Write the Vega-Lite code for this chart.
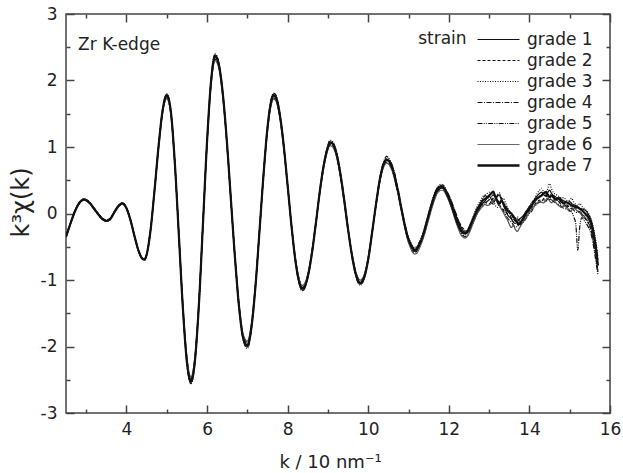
{
"$schema": "https://vega.github.io/schema/vega-lite/v6.json",
"width": 544, "height": 399,
"autosize": {"type": "none"},
"padding": {"left": 66, "top": 14, "right": 13, "bottom": 60},
"background": "white",
"config": {"view": {"stroke": "#444", "strokeWidth": 1.5}, "font": "DejaVu Sans"},
"resolve": {"axis": {"x": "independent", "y": "independent"}},
"layer": [
{
"data": {"values": [
{"k":2.5,"g1":-0.35,"g2":-0.34,"g3":-0.36,"g4":-0.35,"g5":-0.33,"g6":-0.36,"g7":-0.35},
{"k":2.6,"g1":-0.17,"g2":-0.16,"g3":-0.18,"g4":-0.17,"g5":-0.16,"g6":-0.18,"g7":-0.17},
{"k":2.7,"g1":0.00,"g2":0.01,"g3":-0.01,"g4":0.00,"g5":0.01,"g6":-0.01,"g7":0.00},
{"k":2.8,"g1":0.13,"g2":0.14,"g3":0.12,"g4":0.13,"g5":0.14,"g6":0.12,"g7":0.13},
{"k":2.9,"g1":0.20,"g2":0.21,"g3":0.19,"g4":0.20,"g5":0.21,"g6":0.20,"g7":0.20},
{"k":2.95,"g1":0.21,"g2":0.22,"g3":0.20,"g4":0.21,"g5":0.22,"g6":0.21,"g7":0.21},
{"k":3.0,"g1":0.20,"g2":0.21,"g3":0.19,"g4":0.20,"g5":0.21,"g6":0.19,"g7":0.20},
{"k":3.1,"g1":0.15,"g2":0.16,"g3":0.14,"g4":0.15,"g5":0.16,"g6":0.14,"g7":0.15},
{"k":3.2,"g1":0.07,"g2":0.08,"g3":0.06,"g4":0.07,"g5":0.08,"g6":0.06,"g7":0.07},
{"k":3.3,"g1":-0.01,"g2":0.00,"g3":-0.02,"g4":-0.01,"g5":0.00,"g6":-0.02,"g7":-0.01},
{"k":3.4,"g1":-0.08,"g2":-0.07,"g3":-0.09,"g4":-0.08,"g5":-0.07,"g6":-0.09,"g7":-0.08},
{"k":3.5,"g1":-0.11,"g2":-0.10,"g3":-0.12,"g4":-0.11,"g5":-0.10,"g6":-0.12,"g7":-0.11},
{"k":3.6,"g1":-0.08,"g2":-0.07,"g3":-0.09,"g4":-0.08,"g5":-0.07,"g6":-0.09,"g7":-0.08},
{"k":3.7,"g1":0.02,"g2":0.03,"g3":0.01,"g4":0.02,"g5":0.03,"g6":0.01,"g7":0.02},
{"k":3.8,"g1":0.11,"g2":0.12,"g3":0.10,"g4":0.11,"g5":0.12,"g6":0.10,"g7":0.11},
{"k":3.9,"g1":0.15,"g2":0.16,"g3":0.14,"g4":0.15,"g5":0.16,"g6":0.14,"g7":0.15},
{"k":4.0,"g1":0.08,"g2":0.09,"g3":0.07,"g4":0.08,"g5":0.09,"g6":0.07,"g7":0.08},
{"k":4.1,"g1":-0.10,"g2":-0.09,"g3":-0.11,"g4":-0.10,"g5":-0.09,"g6":-0.11,"g7":-0.10},
{"k":4.2,"g1":-0.34,"g2":-0.33,"g3":-0.35,"g4":-0.34,"g5":-0.33,"g6":-0.35,"g7":-0.34},
{"k":4.3,"g1":-0.56,"g2":-0.55,"g3":-0.57,"g4":-0.56,"g5":-0.55,"g6":-0.57,"g7":-0.56},
{"k":4.4,"g1":-0.68,"g2":-0.67,"g3":-0.69,"g4":-0.68,"g5":-0.67,"g6":-0.69,"g7":-0.68},
{"k":4.45,"g1":-0.69,"g2":-0.68,"g3":-0.70,"g4":-0.69,"g5":-0.68,"g6":-0.70,"g7":-0.69},
{"k":4.5,"g1":-0.62,"g2":-0.61,"g3":-0.63,"g4":-0.62,"g5":-0.61,"g6":-0.63,"g7":-0.62},
{"k":4.6,"g1":-0.24,"g2":-0.23,"g3":-0.25,"g4":-0.24,"g5":-0.22,"g6":-0.25,"g7":-0.24},
{"k":4.7,"g1":0.37,"g2":0.36,"g3":0.38,"g4":0.37,"g5":0.39,"g6":0.35,"g7":0.37},
{"k":4.8,"g1":1.03,"g2":1.01,"g3":1.04,"g4":1.02,"g5":1.05,"g6":1.00,"g7":1.03},
{"k":4.9,"g1":1.55,"g2":1.53,"g3":1.57,"g4":1.54,"g5":1.58,"g6":1.52,"g7":1.56},
{"k":5.0,"g1":1.77,"g2":1.74,"g3":1.79,"g4":1.76,"g5":1.80,"g6":1.73,"g7":1.78},
{"k":5.1,"g1":1.53,"g2":1.51,"g3":1.55,"g4":1.52,"g5":1.56,"g6":1.50,"g7":1.54},
{"k":5.2,"g1":0.76,"g2":0.75,"g3":0.78,"g4":0.75,"g5":0.79,"g6":0.74,"g7":0.77},
{"k":5.3,"g1":-0.32,"g2":-0.31,"g3":-0.33,"g4":-0.32,"g5":-0.33,"g6":-0.30,"g7":-0.32},
{"k":5.4,"g1":-1.41,"g2":-1.38,"g3":-1.43,"g4":-1.40,"g5":-1.44,"g6":-1.37,"g7":-1.42},
{"k":5.5,"g1":-2.22,"g2":-2.18,"g3":-2.25,"g4":-2.20,"g5":-2.26,"g6":-2.16,"g7":-2.23},
{"k":5.6,"g1":-2.52,"g2":-2.48,"g3":-2.55,"g4":-2.50,"g5":-2.56,"g6":-2.46,"g7":-2.53},
{"k":5.7,"g1":-2.20,"g2":-2.16,"g3":-2.23,"g4":-2.18,"g5":-2.24,"g6":-2.15,"g7":-2.21},
{"k":5.8,"g1":-1.34,"g2":-1.31,"g3":-1.36,"g4":-1.33,"g5":-1.37,"g6":-1.30,"g7":-1.35},
{"k":5.9,"g1":-0.14,"g2":-0.13,"g3":-0.15,"g4":-0.14,"g5":-0.15,"g6":-0.12,"g7":-0.14},
{"k":6.0,"g1":1.07,"g2":1.05,"g3":1.09,"g4":1.06,"g5":1.10,"g6":1.04,"g7":1.08},
{"k":6.1,"g1":1.98,"g2":1.95,"g3":2.01,"g4":1.97,"g5":2.02,"g6":1.93,"g7":1.99},
{"k":6.2,"g1":2.36,"g2":2.32,"g3":2.39,"g4":2.34,"g5":2.40,"g6":2.30,"g7":2.37},
{"k":6.3,"g1":2.21,"g2":2.18,"g3":2.24,"g4":2.20,"g5":2.25,"g6":2.16,"g7":2.22},
{"k":6.4,"g1":1.74,"g2":1.71,"g3":1.76,"g4":1.73,"g5":1.77,"g6":1.70,"g7":1.75},
{"k":6.5,"g1":1.01,"g2":0.99,"g3":1.03,"g4":1.00,"g5":1.03,"g6":0.98,"g7":1.02},
{"k":6.6,"g1":0.14,"g2":0.13,"g3":0.15,"g4":0.14,"g5":0.15,"g6":0.13,"g7":0.14},
{"k":6.7,"g1":-0.72,"g2":-0.70,"g3":-0.73,"g4":-0.71,"g5":-0.74,"g6":-0.69,"g7":-0.72},
{"k":6.8,"g1":-1.43,"g2":-1.40,"g3":-1.45,"g4":-1.42,"g5":-1.46,"g6":-1.39,"g7":-1.44},
{"k":6.9,"g1":-1.87,"g2":-1.84,"g3":-1.90,"g4":-1.86,"g5":-1.91,"g6":-1.82,"g7":-1.88},
{"k":7.0,"g1":-1.98,"g2":-1.94,"g3":-2.01,"g4":-1.96,"g5":-2.03,"g6":-1.92,"g7":-1.99},
{"k":7.1,"g1":-1.71,"g2":-1.68,"g3":-1.74,"g4":-1.70,"g5":-1.75,"g6":-1.66,"g7":-1.72},
{"k":7.2,"g1":-1.10,"g2":-1.08,"g3":-1.12,"g4":-1.09,"g5":-1.13,"g6":-1.07,"g7":-1.11},
{"k":7.3,"g1":-0.28,"g2":-0.27,"g3":-0.29,"g4":-0.28,"g5":-0.29,"g6":-0.26,"g7":-0.28},
{"k":7.4,"g1":0.57,"g2":0.55,"g3":0.58,"g4":0.56,"g5":0.59,"g6":0.55,"g7":0.57},
{"k":7.5,"g1":1.28,"g2":1.25,"g3":1.30,"g4":1.27,"g5":1.31,"g6":1.24,"g7":1.29},
{"k":7.6,"g1":1.70,"g2":1.67,"g3":1.73,"g4":1.69,"g5":1.74,"g6":1.65,"g7":1.71},
{"k":7.65,"g1":1.77,"g2":1.73,"g3":1.80,"g4":1.75,"g5":1.81,"g6":1.72,"g7":1.78},
{"k":7.7,"g1":1.75,"g2":1.72,"g3":1.78,"g4":1.74,"g5":1.79,"g6":1.70,"g7":1.76},
{"k":7.8,"g1":1.50,"g2":1.47,"g3":1.53,"g4":1.49,"g5":1.54,"g6":1.46,"g7":1.51},
{"k":7.9,"g1":1.03,"g2":1.01,"g3":1.05,"g4":1.02,"g5":1.06,"g6":1.00,"g7":1.04},
{"k":8.0,"g1":0.42,"g2":0.41,"g3":0.43,"g4":0.42,"g5":0.44,"g6":0.40,"g7":0.42},
{"k":8.1,"g1":-0.21,"g2":-0.20,"g3":-0.22,"g4":-0.21,"g5":-0.22,"g6":-0.20,"g7":-0.21},
{"k":8.2,"g1":-0.73,"g2":-0.71,"g3":-0.75,"g4":-0.72,"g5":-0.76,"g6":-0.70,"g7":-0.74},
{"k":8.3,"g1":-1.05,"g2":-1.02,"g3":-1.07,"g4":-1.04,"g5":-1.09,"g6":-1.01,"g7":-1.06},
{"k":8.35,"g1":-1.12,"g2":-1.09,"g3":-1.14,"g4":-1.11,"g5":-1.16,"g6":-1.08,"g7":-1.13},
{"k":8.4,"g1":-1.11,"g2":-1.08,"g3":-1.13,"g4":-1.10,"g5":-1.15,"g6":-1.07,"g7":-1.12},
{"k":8.5,"g1":-0.94,"g2":-0.92,"g3":-0.96,"g4":-0.93,"g5":-0.97,"g6":-0.91,"g7":-0.95},
{"k":8.6,"g1":-0.60,"g2":-0.58,"g3":-0.62,"g4":-0.59,"g5":-0.63,"g6":-0.57,"g7":-0.61},
{"k":8.7,"g1":-0.15,"g2":-0.14,"g3":-0.16,"g4":-0.15,"g5":-0.17,"g6":-0.13,"g7":-0.15},
{"k":8.8,"g1":0.33,"g2":0.32,"g3":0.35,"g4":0.33,"g5":0.36,"g6":0.31,"g7":0.34},
{"k":8.9,"g1":0.73,"g2":0.71,"g3":0.75,"g4":0.72,"g5":0.76,"g6":0.70,"g7":0.74},
{"k":9.0,"g1":0.99,"g2":0.97,"g3":1.01,"g4":0.98,"g5":1.03,"g6":0.96,"g7":1.00},
{"k":9.05,"g1":1.06,"g2":1.03,"g3":1.08,"g4":1.05,"g5":1.10,"g6":1.02,"g7":1.07},
{"k":9.1,"g1":1.06,"g2":1.04,"g3":1.07,"g4":1.05,"g5":1.09,"g6":1.01,"g7":1.06},
{"k":9.2,"g1":0.92,"g2":0.90,"g3":0.95,"g4":0.91,"g5":0.96,"g6":0.88,"g7":0.93},
{"k":9.3,"g1":0.62,"g2":0.60,"g3":0.65,"g4":0.61,"g5":0.66,"g6":0.59,"g7":0.63},
{"k":9.4,"g1":0.21,"g2":0.20,"g3":0.24,"g4":0.20,"g5":0.25,"g6":0.18,"g7":0.22},
{"k":9.5,"g1":-0.24,"g2":-0.23,"g3":-0.22,"g4":-0.25,"g5":-0.21,"g6":-0.26,"g7":-0.24},
{"k":9.6,"g1":-0.64,"g2":-0.62,"g3":-0.65,"g4":-0.63,"g5":-0.67,"g6":-0.61,"g7":-0.64},
{"k":9.7,"g1":-0.92,"g2":-0.90,"g3":-0.94,"g4":-0.91,"g5":-0.96,"g6":-0.89,"g7":-0.93},
{"k":9.8,"g1":-1.04,"g2":-1.01,"g3":-1.06,"g4":-1.03,"g5":-1.08,"g6":-1.00,"g7":-1.05},
{"k":9.9,"g1":-0.95,"g2":-0.93,"g3":-0.97,"g4":-0.94,"g5":-0.98,"g6":-0.92,"g7":-0.96},
{"k":10.0,"g1":-0.68,"g2":-0.66,"g3":-0.70,"g4":-0.67,"g5":-0.71,"g6":-0.65,"g7":-0.69},
{"k":10.1,"g1":-0.27,"g2":-0.26,"g3":-0.28,"g4":-0.27,"g5":-0.29,"g6":-0.25,"g7":-0.27},
{"k":10.2,"g1":0.16,"g2":0.15,"g3":0.18,"g4":0.16,"g5":0.19,"g6":0.14,"g7":0.17},
{"k":10.3,"g1":0.54,"g2":0.52,"g3":0.56,"g4":0.53,"g5":0.58,"g6":0.51,"g7":0.55},
{"k":10.4,"g1":0.76,"g2":0.74,"g3":0.79,"g4":0.75,"g5":0.81,"g6":0.72,"g7":0.77},
{"k":10.45,"g1":0.80,"g2":0.77,"g3":0.83,"g4":0.79,"g5":0.86,"g6":0.76,"g7":0.81},
{"k":10.5,"g1":0.79,"g2":0.76,"g3":0.82,"g4":0.78,"g5":0.84,"g6":0.75,"g7":0.80},
{"k":10.55,"g1":0.74,"g2":0.71,"g3":0.77,"g4":0.72,"g5":0.79,"g6":0.70,"g7":0.76},
{"k":10.6,"g1":0.67,"g2":0.66,"g3":0.71,"g4":0.64,"g5":0.72,"g6":0.63,"g7":0.68},
{"k":10.65,"g1":0.57,"g2":0.54,"g3":0.60,"g4":0.55,"g5":0.62,"g6":0.52,"g7":0.58},
{"k":10.7,"g1":0.45,"g2":0.41,"g3":0.47,"g4":0.44,"g5":0.49,"g6":0.40,"g7":0.43},
{"k":10.75,"g1":0.30,"g2":0.27,"g3":0.33,"g4":0.28,"g5":0.34,"g6":0.26,"g7":0.31},
{"k":10.8,"g1":0.15,"g2":0.12,"g3":0.18,"g4":0.13,"g5":0.17,"g6":0.11,"g7":0.14},
{"k":10.85,"g1":0.00,"g2":-0.03,"g3":0.03,"g4":-0.02,"g5":0.02,"g6":-0.04,"g7":-0.01},
{"k":10.9,"g1":-0.15,"g2":-0.18,"g3":-0.12,"g4":-0.17,"g5":-0.13,"g6":-0.19,"g7":-0.16},
{"k":10.95,"g1":-0.27,"g2":-0.31,"g3":-0.26,"g4":-0.30,"g5":-0.25,"g6":-0.33,"g7":-0.29},
{"k":11.0,"g1":-0.38,"g2":-0.43,"g3":-0.36,"g4":-0.41,"g5":-0.37,"g6":-0.44,"g7":-0.39},
{"k":11.05,"g1":-0.45,"g2":-0.50,"g3":-0.44,"g4":-0.49,"g5":-0.43,"g6":-0.52,"g7":-0.46},
{"k":11.1,"g1":-0.51,"g2":-0.57,"g3":-0.49,"g4":-0.55,"g5":-0.50,"g6":-0.58,"g7":-0.52},
{"k":11.15,"g1":-0.54,"g2":-0.59,"g3":-0.51,"g4":-0.57,"g5":-0.52,"g6":-0.61,"g7":-0.55},
{"k":11.2,"g1":-0.55,"g2":-0.57,"g3":-0.50,"g4":-0.56,"g5":-0.51,"g6":-0.60,"g7":-0.53},
{"k":11.25,"g1":-0.51,"g2":-0.52,"g3":-0.46,"g4":-0.50,"g5":-0.45,"g6":-0.55,"g7":-0.48},
{"k":11.3,"g1":-0.45,"g2":-0.46,"g3":-0.39,"g4":-0.44,"g5":-0.40,"g6":-0.48,"g7":-0.42},
{"k":11.35,"g1":-0.37,"g2":-0.38,"g3":-0.31,"g4":-0.36,"g5":-0.32,"g6":-0.40,"g7":-0.34},
{"k":11.4,"g1":-0.28,"g2":-0.29,"g3":-0.21,"g4":-0.26,"g5":-0.23,"g6":-0.31,"g7":-0.24},
{"k":11.45,"g1":-0.17,"g2":-0.18,"g3":-0.10,"g4":-0.15,"g5":-0.12,"g6":-0.20,"g7":-0.13},
{"k":11.5,"g1":-0.06,"g2":-0.07,"g3":0.01,"g4":-0.04,"g5":0.00,"g6":-0.09,"g7":-0.02},
{"k":11.55,"g1":0.05,"g2":0.04,"g3":0.12,"g4":0.07,"g5":0.11,"g6":0.02,"g7":0.09},
{"k":11.6,"g1":0.15,"g2":0.14,"g3":0.22,"g4":0.17,"g5":0.21,"g6":0.12,"g7":0.19},
{"k":11.65,"g1":0.24,"g2":0.23,"g3":0.31,"g4":0.26,"g5":0.30,"g6":0.21,"g7":0.28},
{"k":11.7,"g1":0.31,"g2":0.30,"g3":0.38,"g4":0.33,"g5":0.37,"g6":0.29,"g7":0.35},
{"k":11.75,"g1":0.36,"g2":0.35,"g3":0.42,"g4":0.37,"g5":0.41,"g6":0.33,"g7":0.39},
{"k":11.8,"g1":0.38,"g2":0.37,"g3":0.44,"g4":0.39,"g5":0.42,"g6":0.35,"g7":0.41},
{"k":11.85,"g1":0.39,"g2":0.38,"g3":0.41,"g4":0.38,"g5":0.43,"g6":0.35,"g7":0.40},
{"k":11.9,"g1":0.37,"g2":0.36,"g3":0.38,"g4":0.34,"g5":0.40,"g6":0.32,"g7":0.36},
{"k":11.95,"g1":0.32,"g2":0.31,"g3":0.32,"g4":0.28,"g5":0.34,"g6":0.26,"g7":0.30},
{"k":12.0,"g1":0.26,"g2":0.27,"g3":0.24,"g4":0.21,"g5":0.28,"g6":0.19,"g7":0.23},
{"k":12.05,"g1":0.19,"g2":0.20,"g3":0.15,"g4":0.12,"g5":0.21,"g6":0.11,"g7":0.15},
{"k":12.1,"g1":0.10,"g2":0.12,"g3":0.05,"g4":0.03,"g5":0.13,"g6":0.02,"g7":0.06},
{"k":12.15,"g1":0.02,"g2":0.04,"g3":-0.05,"g4":-0.06,"g5":0.05,"g6":-0.08,"g7":-0.03},
{"k":12.2,"g1":-0.07,"g2":-0.05,"g3":-0.14,"g4":-0.15,"g5":-0.04,"g6":-0.17,"g7":-0.12},
{"k":12.25,"g1":-0.15,"g2":-0.12,"g3":-0.22,"g4":-0.22,"g5":-0.12,"g6":-0.25,"g7":-0.19},
{"k":12.3,"g1":-0.21,"g2":-0.18,"g3":-0.28,"g4":-0.29,"g5":-0.19,"g6":-0.32,"g7":-0.25},
{"k":12.35,"g1":-0.26,"g2":-0.22,"g3":-0.32,"g4":-0.33,"g5":-0.24,"g6":-0.35,"g7":-0.29},
{"k":12.4,"g1":-0.29,"g2":-0.25,"g3":-0.33,"g4":-0.35,"g5":-0.27,"g6":-0.37,"g7":-0.30},
{"k":12.45,"g1":-0.29,"g2":-0.26,"g3":-0.30,"g4":-0.34,"g5":-0.28,"g6":-0.35,"g7":-0.28},
{"k":12.5,"g1":-0.25,"g2":-0.24,"g3":-0.23,"g4":-0.29,"g5":-0.25,"g6":-0.30,"g7":-0.22},
{"k":12.55,"g1":-0.19,"g2":-0.20,"g3":-0.14,"g4":-0.22,"g5":-0.20,"g6":-0.23,"g7":-0.15},
{"k":12.6,"g1":-0.12,"g2":-0.14,"g3":-0.05,"g4":-0.14,"g5":-0.13,"g6":-0.15,"g7":-0.08},
{"k":12.65,"g1":-0.05,"g2":-0.07,"g3":0.03,"g4":-0.06,"g5":-0.06,"g6":-0.08,"g7":-0.01},
{"k":12.7,"g1":0.01,"g2":0.00,"g3":0.10,"g4":0.01,"g5":0.00,"g6":-0.01,"g7":0.06},
{"k":12.75,"g1":0.07,"g2":0.05,"g3":0.16,"g4":0.06,"g5":0.08,"g6":0.04,"g7":0.11},
{"k":12.8,"g1":0.13,"g2":0.10,"g3":0.21,"g4":0.12,"g5":0.17,"g6":0.08,"g7":0.16},
{"k":12.85,"g1":0.16,"g2":0.14,"g3":0.26,"g4":0.15,"g5":0.23,"g6":0.11,"g7":0.20},
{"k":12.9,"g1":0.19,"g2":0.17,"g3":0.28,"g4":0.16,"g5":0.27,"g6":0.14,"g7":0.22},
{"k":12.95,"g1":0.23,"g2":0.15,"g3":0.30,"g4":0.18,"g5":0.25,"g6":0.12,"g7":0.24},
{"k":13.0,"g1":0.26,"g2":0.14,"g3":0.32,"g4":0.21,"g5":0.22,"g6":0.13,"g7":0.27},
{"k":13.05,"g1":0.22,"g2":0.18,"g3":0.27,"g4":0.25,"g5":0.17,"g6":0.15,"g7":0.30},
{"k":13.1,"g1":0.17,"g2":0.23,"g3":0.21,"g4":0.28,"g5":0.14,"g6":0.19,"g7":0.33},
{"k":13.15,"g1":0.20,"g2":0.26,"g3":0.13,"g4":0.24,"g5":0.20,"g6":0.22,"g7":0.26},
{"k":13.2,"g1":0.25,"g2":0.21,"g3":0.09,"g4":0.17,"g5":0.27,"g6":0.18,"g7":0.20},
{"k":13.25,"g1":0.28,"g2":0.14,"g3":0.12,"g4":0.11,"g5":0.31,"g6":0.13,"g7":0.15},
{"k":13.3,"g1":0.21,"g2":0.09,"g3":0.18,"g4":0.08,"g5":0.24,"g6":0.07,"g7":0.19},
{"k":13.35,"g1":0.13,"g2":0.06,"g3":0.23,"g4":0.04,"g5":0.15,"g6":0.02,"g7":0.16},
{"k":13.4,"g1":0.06,"g2":0.02,"g3":0.17,"g4":-0.01,"g5":0.12,"g6":-0.04,"g7":0.09},
{"k":13.45,"g1":-0.01,"g2":0.00,"g3":0.10,"g4":-0.06,"g5":0.08,"g6":-0.09,"g7":0.05},
{"k":13.5,"g1":-0.05,"g2":0.04,"g3":0.03,"g4":-0.10,"g5":0.01,"g6":-0.16,"g7":0.02},
{"k":13.55,"g1":-0.08,"g2":-0.01,"g3":-0.04,"g4":-0.13,"g5":-0.07,"g6":-0.21,"g7":0.00},
{"k":13.6,"g1":-0.13,"g2":-0.07,"g3":-0.09,"g4":-0.17,"g5":-0.12,"g6":-0.18,"g7":-0.04},
{"k":13.65,"g1":-0.15,"g2":-0.12,"g3":-0.07,"g4":-0.21,"g5":-0.10,"g6":-0.24,"g7":-0.09},
{"k":13.7,"g1":-0.12,"g2":-0.16,"g3":-0.05,"g4":-0.19,"g5":-0.08,"g6":-0.27,"g7":-0.13},
{"k":13.75,"g1":-0.09,"g2":-0.19,"g3":-0.08,"g4":-0.15,"g5":-0.11,"g6":-0.22,"g7":-0.16},
{"k":13.8,"g1":-0.06,"g2":-0.15,"g3":-0.12,"g4":-0.11,"g5":-0.14,"g6":-0.17,"g7":-0.12},
{"k":13.85,"g1":-0.03,"g2":-0.10,"g3":-0.09,"g4":-0.05,"g5":-0.13,"g6":-0.12,"g7":-0.07},
{"k":13.9,"g1":0.02,"g2":-0.07,"g3":-0.03,"g4":0.00,"g5":-0.09,"g6":-0.08,"g7":-0.02},
{"k":13.95,"g1":0.06,"g2":-0.02,"g3":0.04,"g4":0.05,"g5":-0.04,"g6":-0.03,"g7":0.03},
{"k":14.0,"g1":0.10,"g2":0.04,"g3":0.09,"g4":0.11,"g5":0.00,"g6":0.02,"g7":0.07},
{"k":14.05,"g1":0.13,"g2":0.08,"g3":0.15,"g4":0.16,"g5":0.03,"g6":0.06,"g7":0.11},
{"k":14.1,"g1":0.18,"g2":0.11,"g3":0.20,"g4":0.19,"g5":0.08,"g6":0.10,"g7":0.16},
{"k":14.15,"g1":0.23,"g2":0.15,"g3":0.25,"g4":0.22,"g5":0.12,"g6":0.13,"g7":0.20},
{"k":14.2,"g1":0.27,"g2":0.18,"g3":0.31,"g4":0.24,"g5":0.15,"g6":0.16,"g7":0.23},
{"k":14.25,"g1":0.30,"g2":0.20,"g3":0.35,"g4":0.26,"g5":0.17,"g6":0.18,"g7":0.25},
{"k":14.3,"g1":0.32,"g2":0.19,"g3":0.38,"g4":0.28,"g5":0.18,"g6":0.17,"g7":0.27},
{"k":14.35,"g1":0.29,"g2":0.22,"g3":0.33,"g4":0.31,"g5":0.21,"g6":0.16,"g7":0.30},
{"k":14.4,"g1":0.26,"g2":0.27,"g3":0.29,"g4":0.34,"g5":0.18,"g6":0.20,"g7":0.32},
{"k":14.45,"g1":0.31,"g2":0.24,"g3":0.36,"g4":0.30,"g5":0.22,"g6":0.23,"g7":0.28},
{"k":14.5,"g1":0.35,"g2":0.21,"g3":0.45,"g4":0.27,"g5":0.26,"g6":0.19,"g7":0.25},
{"k":14.55,"g1":0.30,"g2":0.23,"g3":0.37,"g4":0.29,"g5":0.21,"g6":0.16,"g7":0.27},
{"k":14.6,"g1":0.27,"g2":0.26,"g3":0.31,"g4":0.25,"g5":0.18,"g6":0.20,"g7":0.24},
{"k":14.65,"g1":0.25,"g2":0.22,"g3":0.29,"g4":0.22,"g5":0.16,"g6":0.17,"g7":0.21},
{"k":14.7,"g1":0.22,"g2":0.19,"g3":0.27,"g4":0.20,"g5":0.14,"g6":0.13,"g7":0.23},
{"k":14.75,"g1":0.24,"g2":0.16,"g3":0.25,"g4":0.17,"g5":0.13,"g6":0.11,"g7":0.21},
{"k":14.8,"g1":0.21,"g2":0.13,"g3":0.23,"g4":0.19,"g5":0.10,"g6":0.09,"g7":0.18},
{"k":14.85,"g1":0.19,"g2":0.11,"g3":0.24,"g4":0.16,"g5":0.08,"g6":0.12,"g7":0.15},
{"k":14.9,"g1":0.18,"g2":0.14,"g3":0.21,"g4":0.12,"g5":0.07,"g6":0.10,"g7":0.17},
{"k":14.95,"g1":0.16,"g2":0.12,"g3":0.19,"g4":0.10,"g5":0.09,"g6":0.06,"g7":0.16},
{"k":15.0,"g1":0.18,"g2":0.09,"g3":0.20,"g4":0.12,"g5":0.04,"g6":0.03,"g7":0.14},
{"k":15.05,"g1":0.15,"g2":0.07,"g3":0.23,"g4":0.09,"g5":0.02,"g6":0.05,"g7":0.12},
{"k":15.1,"g1":0.13,"g2":0.10,"g3":0.17,"g4":0.05,"g5":-0.05,"g6":0.08,"g7":0.11},
{"k":15.15,"g1":0.12,"g2":0.08,"g3":0.14,"g4":0.02,"g5":-0.15,"g6":0.06,"g7":0.10},
{"k":15.2,"g1":0.10,"g2":0.04,"g3":0.12,"g4":0.01,"g5":-0.55,"g6":0.03,"g7":0.09},
{"k":15.25,"g1":0.08,"g2":0.02,"g3":0.15,"g4":0.03,"g5":-0.20,"g6":0.01,"g7":0.07},
{"k":15.3,"g1":0.07,"g2":-0.01,"g3":0.11,"g4":0.00,"g5":-0.06,"g6":-0.03,"g7":0.05},
{"k":15.35,"g1":0.06,"g2":-0.05,"g3":0.08,"g4":-0.04,"g5":-0.10,"g6":-0.06,"g7":0.02},
{"k":15.4,"g1":0.04,"g2":-0.09,"g3":0.05,"g4":-0.08,"g5":-0.14,"g6":-0.02,"g7":-0.01},
{"k":15.45,"g1":0.00,"g2":-0.13,"g3":0.02,"g4":-0.12,"g5":-0.19,"g6":-0.08,"g7":-0.04},
{"k":15.5,"g1":-0.05,"g2":-0.20,"g3":-0.04,"g4":-0.18,"g5":-0.25,"g6":-0.13,"g7":-0.10},
{"k":15.55,"g1":-0.14,"g2":-0.30,"g3":-0.12,"g4":-0.28,"g5":-0.36,"g6":-0.22,"g7":-0.19},
{"k":15.6,"g1":-0.28,"g2":-0.46,"g3":-0.25,"g4":-0.44,"g5":-0.52,"g6":-0.37,"g7":-0.34},
{"k":15.65,"g1":-0.47,"g2":-0.65,"g3":-0.42,"g4":-0.63,"g5":-0.72,"g6":-0.56,"g7":-0.53},
{"k":15.7,"g1":-0.70,"g2":-0.88,"g3":-0.64,"g4":-0.86,"g5":-0.92,"g6":-0.79,"g7":-0.78}
]},
"transform": [{"fold": ["g1","g2","g3","g4","g5","g6","g7"], "as": ["grade","v"]}],
"mark": {"type": "line", "interpolate": "monotone", "clip": true},
"encoding": {
"x": {"field": "k", "type": "quantitative", "scale": {"domain": [2.5, 16], "nice": false, "zero": false},
 "axis": {"orient": "bottom", "values": [3,4,5,6,7,8,9,10,11,12,13,14,15,16],
  "tickSize": {"condition": {"test": "datum.value % 2 === 0", "value": -8}, "value": -4},
  "labelExpr": "datum.value % 2 === 0 ? '' + datum.value : ''",
  "labelFont": "DejaVu Sans", "labelFontSize": 17, "labelColor": "#222", "labelPadding": 16,
  "labelFlush": false, "labelOverlap": false, "domain": false, "grid": false,
  "tickColor": "#444", "tickWidth": 1.5,
  "title": "k / 10 nm⁻¹", "titleFont": "DejaVu Sans", "titleFontSize": 18, "titleFontWeight": "normal", "titleColor": "#222", "titlePadding": 12, "titleX": 264}},
"y": {"field": "v", "type": "quantitative", "scale": {"domain": [-3, 3], "nice": false, "zero": false},
 "axis": {"orient": "left", "values": [-3,-2.5,-2,-1.5,-1,-0.5,0,0.5,1,1.5,2,2.5,3],
  "tickSize": {"condition": {"test": "datum.value % 1 === 0", "value": -8}, "value": -4},
  "labelExpr": "datum.value % 1 === 0 ? '' + datum.value : ''",
  "labelFont": "DejaVu Sans", "labelFontSize": 17, "labelColor": "#222", "labelPadding": 17,
  "labelFlush": false, "labelOverlap": false, "domain": false, "grid": false,
  "tickColor": "#444", "tickWidth": 1.5,
  "title": "k³χ(k)", "titleFont": "DejaVu Sans", "titleFontSize": 24, "titleFontWeight": "normal", "titleColor": "#222", "titlePadding": 7, "titleY": 188}},
"strokeDash": {"field": "grade", "type": "nominal",
 "scale": {"domain": ["g1","g2","g3","g4","g5","g6","g7"], "range": [[1,0],[3,2],[1,1.5],[5,1.5,1,1.5],[5,1.2,1,1.2,1,1.2],[1,0],[1,0]]},
 "legend": {"title": null, "orient": "none", "legendX": 424, "legendY": 17, "padding": 0,
  "symbolType": "M-3,0H3", "symbolSize": 196, "symbolStrokeColor": "#111", "symbolFillColor": "transparent",
  "labelFont": "DejaVu Sans", "labelFontSize": 17, "labelColor": "#222", "labelOffset": 20, "rowPadding": 3,
  "labelExpr": "'grade ' + substring(datum.label, 1)",
  "encode": {"symbols": {"update": {"strokeWidth": {"signal": "datum.value === 'g7' ? 2.6 : 1.1"}, "stroke": {"signal": "datum.value === 'g6' ? '#666' : '#111'"}}}}}},
"strokeWidth": {"condition": {"test": "datum.grade === 'g7'", "value": 2.2}, "value": 1.2},
"color": {"condition": {"test": "datum.grade === 'g6'", "value": "#555"}, "value": "#111"}
}
},
{
"data": {"values": [{"k": 2.8, "v": 2.53, "t": "Zr K-edge"}]},
"mark": {"type": "text", "align": "left", "baseline": "middle", "font": "DejaVu Sans", "fontSize": 17, "color": "#222"},
"encoding": {
"x": {"field": "k", "type": "quantitative", "scale": {"domain": [2.5, 16], "nice": false, "zero": false},
 "axis": {"orient": "top", "values": [3,4,5,6,7,8,9,10,11,12,13,14,15,16],
  "tickSize": {"condition": {"test": "datum.value % 2 === 0", "value": -8}, "value": -4},
  "labels": false, "domain": false, "grid": false, "tickColor": "#444", "tickWidth": 1.5, "title": null}},
"y": {"field": "v", "type": "quantitative", "scale": {"domain": [-3, 3], "nice": false, "zero": false},
 "axis": {"orient": "right", "values": [-3,-2.5,-2,-1.5,-1,-0.5,0,0.5,1,1.5,2,2.5,3],
  "tickSize": {"condition": {"test": "datum.value % 1 === 0", "value": -8}, "value": -4},
  "labels": false, "domain": false, "grid": false, "tickColor": "#444", "tickWidth": 1.5, "title": null}},
"text": {"field": "t"}
}
},
{
"data": {"values": [{"k": 11.84, "v": 2.62, "t": "strain"}]},
"mark": {"type": "text", "align": "center", "baseline": "middle", "font": "DejaVu Sans", "fontSize": 17, "color": "#222"},
"encoding": {
"x": {"field": "k", "type": "quantitative", "scale": {"domain": [2.5, 16], "nice": false, "zero": false}, "axis": null},
"y": {"field": "v", "type": "quantitative", "scale": {"domain": [-3, 3], "nice": false, "zero": false}, "axis": null},
"text": {"field": "t"}
}
}
]
}
